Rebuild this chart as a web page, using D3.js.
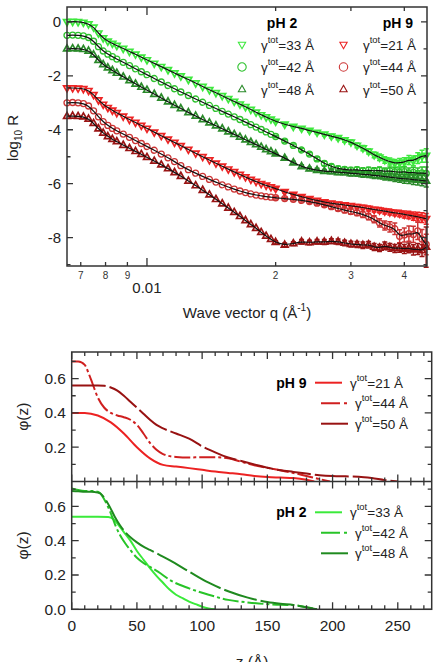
<!DOCTYPE html>
<html>
<head>
<meta charset="utf-8">
<script src="https://cdn.jsdelivr.net/npm/d3@7"></script>
<style>
  body { margin: 0; background: #fff; }
  svg { display: block; font-family: "Liberation Sans", Arial, sans-serif; }
</style>
</head>
<body>
<div id="chart"></div>
<script>
// ---- reflectivity data (shared q grid, log10 R per sample)
const qVals = [0.0065,0.0067,0.0069,0.0071,0.0073,0.0075,0.0077,0.0079,0.0081,0.0083,0.0085,0.0088,0.0091,0.0094,0.0097,0.0100,
  0.0104,0.0108,0.0112,0.0116,0.0120,0.0125,0.0130,0.0135,0.0140,0.0145,0.0150,0.0155,0.0160,0.0165,0.0170,0.0175,0.0180,0.0185,0.0190,0.0195,
  0.020,0.021,0.022,0.023,0.024,0.025,0.026,0.027,0.028,0.029,0.030,0.031,0.032,0.033,0.034,0.035,0.036,0.037,0.038,0.039,0.040,0.041,0.042,0.043,0.044,0.045];

const logR33 = [0.00,0.01,0.00,-0.02,-0.08,-0.20,-0.42,-0.60,-0.72,-0.80,-0.88,-0.99,-1.10,-1.20,-1.31,-1.41,
  -1.54,-1.66,-1.78,-1.90,-2.01,-2.14,-2.27,-2.40,-2.52,-2.63,-2.74,-2.85,-2.95,-3.05,-3.15,-3.25,-3.35,-3.45,-3.53,-3.61,
  -3.69,-3.80,-3.88,-3.95,-4.03,-4.10,-4.17,-4.24,-4.30,-4.38,-4.46,-4.58,-4.68,-4.80,-4.93,-5.02,-5.12,-5.18,-5.24,-5.22,-5.20,-5.12,-5.15,-5.05,-4.98,-4.95];
const logR42 = [-0.50,-0.49,-0.50,-0.52,-0.58,-0.72,-0.92,-1.08,-1.20,-1.29,-1.38,-1.50,-1.62,-1.74,-1.85,-1.96,
  -2.10,-2.23,-2.36,-2.48,-2.60,-2.73,-2.86,-2.98,-3.10,-3.21,-3.32,-3.42,-3.52,-3.62,-3.72,-3.81,-3.90,-3.99,-4.08,-4.17,
  -4.25,-4.42,-4.58,-4.75,-4.90,-5.08,-5.25,-5.36,-5.44,-5.47,-5.50,-5.48,-5.52,-5.50,-5.53,-5.50,-5.55,-5.52,-5.56,-5.58,-5.55,-5.60,-5.58,-5.62,-5.60,-5.62];
const logR48 = [-1.00,-0.99,-1.00,-1.02,-1.08,-1.22,-1.42,-1.58,-1.70,-1.80,-1.90,-2.04,-2.17,-2.30,-2.42,-2.53,
  -2.68,-2.82,-2.96,-3.09,-3.21,-3.36,-3.49,-3.62,-3.74,-3.85,-3.96,-4.07,-4.17,-4.27,-4.37,-4.46,-4.55,-4.64,-4.73,-4.81,
  -4.89,-5.05,-5.22,-5.36,-5.45,-5.50,-5.54,-5.55,-5.58,-5.58,-5.62,-5.62,-5.66,-5.66,-5.70,-5.70,-5.74,-5.75,-5.78,-5.80,-5.82,-5.82,-5.85,-5.86,-5.88,-5.90];
const logR21 = [-2.45,-2.45,-2.46,-2.48,-2.55,-2.70,-2.90,-3.06,-3.18,-3.28,-3.37,-3.50,-3.62,-3.73,-3.84,-3.95,
  -4.09,-4.22,-4.35,-4.47,-4.59,-4.73,-4.87,-5.00,-5.12,-5.24,-5.35,-5.46,-5.56,-5.66,-5.75,-5.84,-5.92,-6.00,-6.06,-6.12,
  -6.18,-6.30,-6.40,-6.48,-6.56,-6.62,-6.68,-6.72,-6.76,-6.79,-6.82,-6.85,-6.88,-6.92,-6.96,-6.98,-7.02,-7.05,-7.08,-7.10,-7.14,-7.16,-7.20,-7.22,-7.26,-7.30];
const logR44 = [-3.00,-2.99,-3.00,-3.03,-3.12,-3.30,-3.52,-3.70,-3.84,-3.95,-4.04,-4.16,-4.28,-4.40,-4.51,-4.62,
  -4.76,-4.90,-5.04,-5.18,-5.33,-5.48,-5.61,-5.73,-5.84,-5.94,-6.04,-6.12,-6.20,-6.27,-6.33,-6.38,-6.42,-6.45,-6.48,-6.50,
  -6.52,-6.55,-6.58,-6.62,-6.66,-6.72,-6.78,-6.85,-6.92,-6.98,-7.03,-7.08,-7.14,-7.22,-7.32,-7.45,-7.55,-7.60,-7.67,-7.95,-7.90,-7.85,-7.88,-7.75,-8.05,-8.25];
const logR50 = [-3.50,-3.49,-3.50,-3.52,-3.60,-3.76,-3.96,-4.12,-4.25,-4.35,-4.44,-4.57,-4.69,-4.80,-4.91,-5.02,
  -5.16,-5.30,-5.44,-5.58,-5.72,-5.90,-6.07,-6.24,-6.41,-6.58,-6.74,-6.90,-7.06,-7.21,-7.36,-7.51,-7.65,-7.80,-7.94,-8.06,
  -8.17,-8.27,-8.22,-8.15,-8.18,-8.15,-8.16,-8.13,-8.15,-8.20,-8.24,-8.25,-8.28,-8.26,-8.35,-8.38,-8.30,-8.36,-8.40,-8.38,-8.42,-8.38,-8.45,-8.42,-8.48,-8.35];

// error bars for the last points of the q grid (0.020 ... 0.045)
const err33 = [0.04,0.04,0.05,0.05,0.05,0.06,0.06,0.07,0.07,0.08,0.08,0.09,0.10,0.10,0.11,0.12,0.12,0.13,0.14,0.15,0.16,0.17,0.18,0.20,0.22,0.25];
const err42 = [0.04,0.05,0.05,0.06,0.06,0.07,0.08,0.08,0.09,0.09,0.10,0.10,0.11,0.11,0.12,0.12,0.13,0.14,0.15,0.16,0.17,0.18,0.19,0.20,0.22,0.24];
const err48 = [0.04,0.05,0.05,0.06,0.06,0.07,0.07,0.08,0.08,0.09,0.09,0.10,0.10,0.11,0.11,0.12,0.12,0.13,0.14,0.15,0.16,0.17,0.18,0.19,0.20,0.22];
const err21 = [0.04,0.04,0.05,0.05,0.05,0.06,0.06,0.06,0.07,0.07,0.08,0.08,0.08,0.09,0.09,0.10,0.10,0.11,0.11,0.12,0.13,0.14,0.15,0.16,0.18,0.20];
const err44 = [0.05,0.05,0.06,0.06,0.06,0.07,0.07,0.08,0.08,0.09,0.10,0.10,0.11,0.12,0.13,0.15,0.17,0.19,0.21,0.24,0.26,0.28,0.30,0.32,0.35,0.38];
const err50 = [0.06,0.07,0.07,0.08,0.08,0.08,0.09,0.09,0.10,0.10,0.11,0.11,0.12,0.12,0.13,0.13,0.14,0.14,0.15,0.16,0.17,0.18,0.19,0.20,0.22,0.75];

// ---- volume fraction profiles
const z21 = [0,10,20,30,40,50,60,70,80,90,100,110,120,130,140,150,160,170,180,186];
const phi21 = [0.40,0.40,0.385,0.345,0.28,0.20,0.135,0.097,0.087,0.078,0.068,0.058,0.05,0.042,0.032,0.026,0.023,0.02,0.01,0];
const z44 = [0,5,10,13,16,20,25,30,35,40,45,50,55,60,65,70,80,90,100,110,120,130,140,150,160,170,180,190,198];
const phi44 = [0.70,0.70,0.68,0.63,0.57,0.49,0.43,0.40,0.385,0.375,0.36,0.33,0.28,0.225,0.185,0.16,0.143,0.14,0.142,0.142,0.135,0.115,0.095,0.08,0.065,0.05,0.032,0.014,0];
const z50 = [0,10,20,25,30,35,40,45,50,55,60,65,70,80,90,100,110,120,130,140,150,160,170,180,190,200,210,220,230,240,250];
const phi50 = [0.56,0.56,0.56,0.558,0.548,0.53,0.50,0.465,0.43,0.395,0.36,0.33,0.31,0.28,0.25,0.205,0.17,0.14,0.12,0.10,0.08,0.066,0.056,0.046,0.037,0.032,0.03,0.028,0.02,0.008,0];
const z33 = [0,10,20,28,32,35,40,45,50,55,60,65,70,75,80,85,90,95,100,105,110];
const phi33 = [0.54,0.54,0.54,0.538,0.525,0.50,0.45,0.40,0.34,0.29,0.24,0.195,0.155,0.115,0.085,0.065,0.045,0.03,0.015,0.005,0];
const z42 = [0,5,10,15,20,22,25,28,31,34,37,41,45,50,55,60,68,75,90,105,120,135,150,160,170,180,188];
const phi42 = [0.705,0.695,0.69,0.69,0.685,0.675,0.64,0.595,0.54,0.48,0.433,0.385,0.345,0.30,0.27,0.248,0.21,0.172,0.122,0.085,0.055,0.04,0.03,0.026,0.025,0.012,0];
const z48 = [0,5,10,15,20,22,25,29,33,37,41,45,50,55,60,68,75,90,105,120,135,150,160,170,180,188];
const phi48 = [0.69,0.688,0.685,0.685,0.68,0.675,0.65,0.60,0.54,0.49,0.45,0.42,0.39,0.365,0.346,0.315,0.287,0.22,0.155,0.105,0.068,0.042,0.032,0.025,0.012,0];

const W = 437, H = 662;
const ink = "#333";
const svg = d3.select("#chart").append("svg").attr("width", W).attr("height", H);

function gammaLabel(sel, x, y, val, size) {
  const t = sel.append("text").attr("x", x).attr("y", y).attr("font-size", size).attr("fill", "#222");
  t.append("tspan").text("γ");
  t.append("tspan").attr("font-size", size * 0.7).attr("dy", -7).text("tot");
  t.append("tspan").attr("dy", 7).text("=" + val + " Å");
}
function markerPath(shape, cx, cy, r) {
  if (shape === "circle") {
    const p = d3.path(); p.moveTo(cx + r, cy); p.arc(cx, cy, r, 0, 2 * Math.PI); return p.toString();
  }
  const s = shape === "up" ? 1 : -1;
  return `M${cx},${cy - s * r}L${cx + r * 0.87},${cy + s * r * 0.55}L${cx - r * 0.87},${cy + s * r * 0.55}Z`;
}

// ================= top panel: reflectivity =================
const xQ = d3.scaleLog().domain([0.0065, 0.0452]).range([67, 427]);
const yR = d3.scaleLinear().domain([-9.05, 0.55]).range([266, 7]);

const refl = [
  { val: 33, data: logR33, err: err33, color: "#3ee83e", shape: "down" },
  { val: 42, data: logR42, err: err42, color: "#2ec22e", shape: "circle" },
  { val: 48, data: logR48, err: err48, color: "#2a8a2a", shape: "up" },
  { val: 21, data: logR21, err: err21, color: "#ec2424", shape: "down" },
  { val: 44, data: logR44, err: err44, color: "#cc3434", shape: "circle" },
  { val: 50, data: logR50, err: err50, color: "#9a1414", shape: "up" }
];

svg.append("defs").append("clipPath").attr("id", "clipTop")
  .append("rect").attr("x", 60).attr("y", 7).attr("width", 372).attr("height", 262);

const plotTop = svg.append("g").attr("clip-path", "url(#clipTop)");
refl.forEach(s => {
  const g = plotTop.append("g");
  const off = qVals.length - s.err.length;
  s.err.forEach((e, j) => {
    const i = j + off, x = xQ(qVals[i]);
    const y1 = yR(s.data[i] - e), y2 = yR(s.data[i] + e);
    g.append("path").attr("d", `M${x},${y1}V${y2}M${x - 2.5},${y1}H${x + 2.5}M${x - 2.5},${y2}H${x + 2.5}`)
      .attr("stroke", s.color).attr("stroke-width", 1.5).attr("fill", "none");
  });
  g.selectAll("path.pt").data(qVals).join("path").attr("class", "pt")
    .attr("d", (q, i) => markerPath(s.shape, xQ(q), yR(s.data[i]), s.shape === "circle" ? 3 : 3.9))
    .attr("fill", "none").attr("stroke", s.color).attr("stroke-width", s.shape === "circle" ? 1.3 : 1.7);
});
const fitLine = d3.line().x((d, i) => xQ(qVals[i])).y(d => yR(d)).curve(d3.curveBasis);
refl.forEach(s => {
  plotTop.append("path").attr("d", fitLine(s.data)).attr("fill", "none").attr("stroke", "#111").attr("stroke-width", 1.2);
});

// frame + ticks
svg.append("rect").attr("x", 67).attr("y", 7).attr("width", 360).attr("height", 259)
  .attr("fill", "none").attr("stroke", ink).attr("stroke-width", 1.5);
d3.range(-9, 1).forEach(v => {
  const y = yR(v), len = v % 2 === 0 ? 6 : 3.5;
  svg.append("path").attr("d", `M67,${y}H${67 + len}M427,${y}H${427 - len}`).attr("stroke", ink).attr("stroke-width", 1.3);
  if (v % 2 === 0)
    svg.append("text").attr("x", 61).attr("y", y + 5.5).attr("text-anchor", "end").attr("font-size", 15).attr("fill", "#222").text(v);
});
const qTicks = [0.007, 0.008, 0.009, 0.01, 0.02, 0.03, 0.04];
qTicks.forEach(q => {
  const x = xQ(q), len = q === 0.01 ? 8 : 4;
  svg.append("path").attr("d", `M${x},266V${266 - len}M${x},7V${7 + len}`).attr("stroke", ink).attr("stroke-width", 1.3);
  if (q === 0.01)
    svg.append("text").attr("x", x).attr("y", 293).attr("text-anchor", "middle").attr("font-size", 15).attr("fill", "#222").text("0.01");
  else
    svg.append("text").attr("x", x).attr("y", 279).attr("text-anchor", "middle").attr("font-size", 10).attr("fill", "#333")
      .text(Math.round(q / Math.pow(10, Math.floor(Math.log10(q) + 1e-9))));
});
const xt = svg.append("text").attr("x", 247).attr("y", 318).attr("text-anchor", "middle").attr("font-size", 15).attr("fill", "#222");
xt.append("tspan").text("Wave vector q (Å");
xt.append("tspan").attr("font-size", 10).attr("dy", -7).text("-1");
xt.append("tspan").attr("dy", 7).text(")");
const yt = svg.append("text").attr("transform", "translate(18,138) rotate(-90)").attr("text-anchor", "middle").attr("font-size", 15).attr("fill", "#222");
yt.append("tspan").text("log");
yt.append("tspan").attr("font-size", 10).attr("dy", 4).text("10");
yt.append("tspan").attr("dy", -4).text(" R");

// legend
const lg = svg.append("g");
lg.append("text").attr("x", 282).attr("y", 28).attr("text-anchor", "middle").attr("font-size", 14).attr("font-weight", 700).text("pH 2");
lg.append("text").attr("x", 413).attr("y", 28).attr("text-anchor", "end").attr("font-size", 14).attr("font-weight", 700).text("pH 9");
refl.forEach((s, i) => {
  const col = i < 3 ? 0 : 1, row = i % 3;
  const mx = col ? 343.5 : 242, tx = col ? 363 : 261, by = 49.5 + row * 22.5;
  lg.append("path").attr("d", markerPath(s.shape, mx, by - 5, 4.2)).attr("fill", "none").attr("stroke", s.color).attr("stroke-width", 1.1);
  gammaLabel(lg, tx, by, s.val, 13.5);
});

// ================= bottom panels: phi(z) =================
const xZ = d3.scaleLinear().domain([0, 276]).range([71.7, 431.7]);
const yUp = d3.scaleLinear().domain([0, 0.755]).range([481.5, 352]);
const yLo = d3.scaleLinear().domain([0, 0.745]).range([609.3, 481.5]);

const profUp = [
  { val: 21, z: z21, phi: phi21, color: "#ec2222", dash: null },
  { val: 44, z: z44, phi: phi44, color: "#cf1f1f", dash: "16,3,3,3" },
  { val: 50, z: z50, phi: phi50, color: "#981212", dash: "34,4" }
];
const profLo = [
  { val: 33, z: z33, phi: phi33, color: "#3aea3a", dash: null },
  { val: 42, z: z42, phi: phi42, color: "#28c428", dash: "16,3,3,3" },
  { val: 48, z: z48, phi: phi48, color: "#1f8a1f", dash: "34,4" }
];

function drawProfiles(series, yS, y0, y1, ph, legY) {
  const id = "clip" + ph;
  svg.select("defs").append("clipPath").attr("id", id)
    .append("rect").attr("x", 71.7).attr("y", y0).attr("width", 360).attr("height", y1 - y0);
  const g = svg.append("g").attr("clip-path", `url(#${id})`);
  series.forEach(s => {
    const line = d3.line().x((d, i) => xZ(s.z[i])).y(d => yS(d)).curve(d3.curveMonotoneX);
    g.append("path").attr("d", line(s.phi)).attr("fill", "none").attr("stroke", s.color)
      .attr("stroke-width", 2).attr("stroke-dasharray", s.dash);
  });
  // legend
  svg.append("text").attr("x", 306.5).attr("y", legY + 5).attr("text-anchor", "end").attr("font-size", 14)
    .attr("font-weight", 700).text("pH " + ph);
  series.forEach((s, i) => {
    const y = legY + i * 20.5, x0 = i === 0 ? 315 : 321, tx = i === 0 ? 350 : 355;
    svg.append("path").attr("d", `M${x0},${y}H${x0 + 27}`).attr("stroke", s.color).attr("stroke-width", 2)
      .attr("stroke-dasharray", s.dash ? (i === 1 ? "19,4,3,40" : null) : null);
    gammaLabel(svg, tx, y + 5, s.val, 13.5);
  });
  // y ticks
  d3.range(0, 8).forEach(k => {
    const v = k / 10, y = yS(v);
    if (y < y0 - 0.5 || y > y1 + 0.5) return;
    const len = k % 2 === 0 ? 7 : 4;
    if (!(ph === 9 && k === 0))
      svg.append("path").attr("d", `M71.7,${y}H${71.7 + len}M431.7,${y}H${431.7 - len}`).attr("stroke", ink).attr("stroke-width", 1.3);
    if (k % 2 === 0 && !(ph === 9 && k === 0))
      svg.append("text").attr("x", 66).attr("y", y + 5.5).attr("text-anchor", "end").attr("font-size", 15.5).attr("fill", "#222").text(v.toFixed(1));
  });
  // x ticks (top and bottom edge of this panel, pointing inward)
  d3.range(0, 280, 10).forEach(z => {
    const x = xZ(z), len = z % 50 === 0 ? 7 : 4;
    svg.append("path").attr("d", `M${x},${y0}V${y0 + len}M${x},${y1}V${y1 - len}`).attr("stroke", ink).attr("stroke-width", 1.3);
  });
  svg.append("text").attr("transform", `translate(28,${(y0 + y1) / 2}) rotate(-90)`).attr("text-anchor", "middle")
    .attr("font-size", 15.5).attr("fill", "#222").text("φ(z)");
}
drawProfiles(profUp, yUp, 352, 481.5, 9, 382.7);
drawProfiles(profLo, yLo, 481.5, 609.3, 2, 512.3);

svg.append("rect").attr("x", 71.7).attr("y", 352).attr("width", 360).attr("height", 257.3)
  .attr("fill", "none").attr("stroke", ink).attr("stroke-width", 1.5);
svg.append("line").attr("x1", 71.7).attr("x2", 431.7).attr("y1", 481.5).attr("y2", 481.5).attr("stroke", ink).attr("stroke-width", 1.5);

[0, 50, 100, 150, 200, 250].forEach(z => {
  svg.append("text").attr("x", xZ(z)).attr("y", 631).attr("text-anchor", "middle").attr("font-size", 15.5).attr("fill", "#222").text(z);
});
svg.append("text").attr("x", 252).attr("y", 667).attr("text-anchor", "middle").attr("font-size", 15.5).attr("fill", "#222").text("z (Å)");
</script>
</body>
</html>
